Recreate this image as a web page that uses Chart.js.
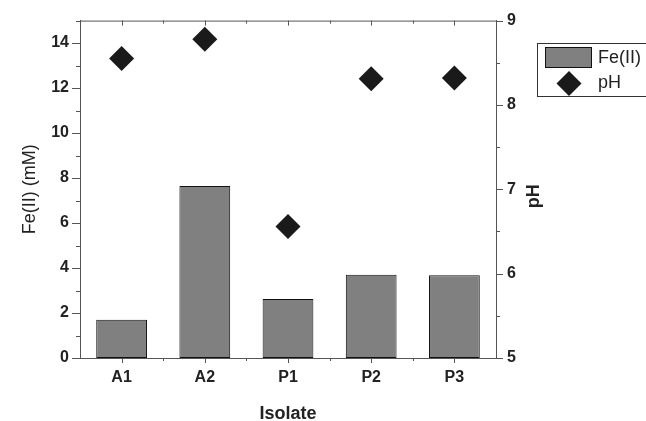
<!DOCTYPE html>
<html lang="en">
<head>
    <meta charset="UTF-8">
    <title>Fe(II) and pH by isolate</title>
    <script src="https://cdn.jsdelivr.net/npm/chart.js"></script>
    <style>
        body {
            margin: 0;
            background: #fff;
        }
        .chart-wrapper {
            position: relative;
            width: 646px;
            height: 421px;
        }
    </style>
</head>
<body>
<div class="chart-wrapper">
    <canvas id="myChart"></canvas>
</div>

<script>
    const isolates = ["A1", "A2", "P1", "P2", "P3"];
    const feValues = [1.7, 7.65, 2.62, 3.7, 3.68];
    const phValues = [8.55, 8.78, 6.56, 8.31, 8.32];

    const FONT = "Arial, 'Liberation Sans', sans-serif";
    const TEXT = '#222';
    const AXIS = '#555';

    // axis frame with major and minor ticks, drawn from the scales
    const tickPlugin = {
        id: 'ticks',
        afterDraw(chart) {
            const ctx = chart.ctx;
            const a = chart.chartArea;
            const y = chart.scales.y, y1 = chart.scales.y1, x = chart.scales.x;
            ctx.save();
            ctx.strokeStyle = AXIS;
            ctx.lineWidth = 1;
            ctx.beginPath();
            ctx.moveTo(a.left, a.top + 0.5);
            ctx.lineTo(a.right, a.top + 0.5);
            for (let v = 0; v <= 15; v++) {
                const py = Math.round(y.getPixelForValue(v)) + 0.5;
                const len = v % 2 === 0 ? 8 : 4;
                ctx.moveTo(a.left - len, py);
                ctx.lineTo(a.left, py);
            }
            for (let v = 5; v <= 9; v += 0.5) {
                const py = Math.round(y1.getPixelForValue(v)) + 0.5;
                const len = v % 1 === 0 ? 7 : 4;
                ctx.moveTo(a.right, py);
                ctx.lineTo(a.right + len, py);
            }
            for (let i = 0; i < isolates.length; i++) {
                const px = Math.round(x.getPixelForValue(i)) + 0.5;
                ctx.moveTo(px, a.bottom);
                ctx.lineTo(px, a.bottom + 5);
                ctx.moveTo(px, a.top);
                ctx.lineTo(px, a.top + 5);
                if (i > 0) {
                    const bx = Math.round((x.getPixelForValue(i) + x.getPixelForValue(i - 1)) / 2) + 0.5;
                    ctx.moveTo(bx, a.bottom);
                    ctx.lineTo(bx, a.bottom + 3);
                    ctx.moveTo(bx, a.top);
                    ctx.lineTo(bx, a.top + 3);
                }
            }
            ctx.stroke();

            // right axis title, reading bottom to top
            ctx.fillStyle = TEXT;
            ctx.font = 'bold 18px ' + FONT;
            ctx.textAlign = 'center';
            ctx.textBaseline = 'middle';
            ctx.translate(534, (a.top + a.bottom) / 2 + 7);
            ctx.rotate(-Math.PI / 2);
            ctx.fillText('pH', 0, 0);
            ctx.restore();
        }
    };

    const legendPlugin = {
        id: 'boxLegend',
        afterDraw(chart) {
            const ctx = chart.ctx;
            ctx.save();
            ctx.strokeStyle = '#333';
            ctx.lineWidth = 1;
            ctx.strokeRect(537.5, 43.5, 130, 53);
            ctx.fillStyle = '#808080';
            ctx.fillRect(545, 47, 47, 21);
            ctx.strokeStyle = '#111';
            ctx.strokeRect(545.5, 47.5, 46, 20);
            ctx.fillStyle = '#1a1a1a';
            ctx.beginPath();
            ctx.moveTo(569, 71);
            ctx.lineTo(581.5, 83.5);
            ctx.lineTo(569, 96);
            ctx.lineTo(556.5, 83.5);
            ctx.closePath();
            ctx.fill();
            ctx.fillStyle = TEXT;
            ctx.font = '18px ' + FONT;
            ctx.textBaseline = 'middle';
            ctx.fillText('Fe(II)', 598, 58);
            ctx.fillText('pH', 598, 83);
            ctx.restore();
        }
    };

    new Chart(document.getElementById('myChart'), {
        data: {
            labels: isolates,
            datasets: [
                {
                    type: 'line',
                    label: 'pH',
                    data: phValues,
                    yAxisID: 'y1',
                    showLine: false,
                    pointStyle: 'rectRot',
                    pointRadius: 12.5,
                    pointBackgroundColor: '#1a1a1a',
                    pointBorderWidth: 0
                },
                {
                    type: 'bar',
                    label: 'Fe(II)',
                    data: feValues,
                    yAxisID: 'y',
                    backgroundColor: '#808080',
                    borderColor: '#111',
                    borderWidth: 1,
                    borderSkipped: false,
                    categoryPercentage: 1,
                    barPercentage: 0.61
                }
            ]
        },
        options: {
            responsive: true,
            maintainAspectRatio: false,
            animation: false,
            layout: { padding: { top: 19, right: 97, left: 0, bottom: 0 } },
            plugins: {
                legend: { display: false },
                tooltip: { enabled: false }
            },
            scales: {
                x: {
                    offset: true,
                    grid: { display: false, drawTicks: false },
                    border: { display: true, color: AXIS },
                    ticks: { color: TEXT, padding: 10, font: { family: FONT, size: 16, weight: 'bold' } },
                    title: {
                        display: true, text: 'Isolate', color: TEXT,
                        padding: { top: 0, bottom: -4 },
                        font: { family: FONT, size: 18, weight: 'bold' }
                    },
                    afterFit(s) { s.height = 63; }
                },
                y: {
                    position: 'left',
                    min: 0,
                    max: 15,
                    grid: { display: false, drawTicks: false },
                    border: { display: true, color: AXIS },
                    ticks: {
                        stepSize: 1, autoSkip: false, color: TEXT, padding: 11,
                        font: { family: FONT, size: 16, weight: 'bold' },
                        callback: v => (v % 2 === 0 && v < 15 ? v : '')
                    },
                    title: {
                        display: true, text: 'Fe(II) (mM)', color: TEXT,
                        padding: { top: 19, bottom: 0 },
                        font: { family: FONT, size: 18 }
                    },
                    afterFit(s) { s.width = 80; }
                },
                y1: {
                    position: 'right',
                    min: 5,
                    max: 9,
                    grid: { display: false, drawTicks: false },
                    border: { display: true, color: AXIS },
                    ticks: { stepSize: 1, color: TEXT, padding: 11, font: { family: FONT, size: 16, weight: 'bold' } },
                    afterFit(s) { s.width = 53; }
                }
            }
        },
        plugins: [tickPlugin, legendPlugin]
    });
</script>
</body>
</html>
